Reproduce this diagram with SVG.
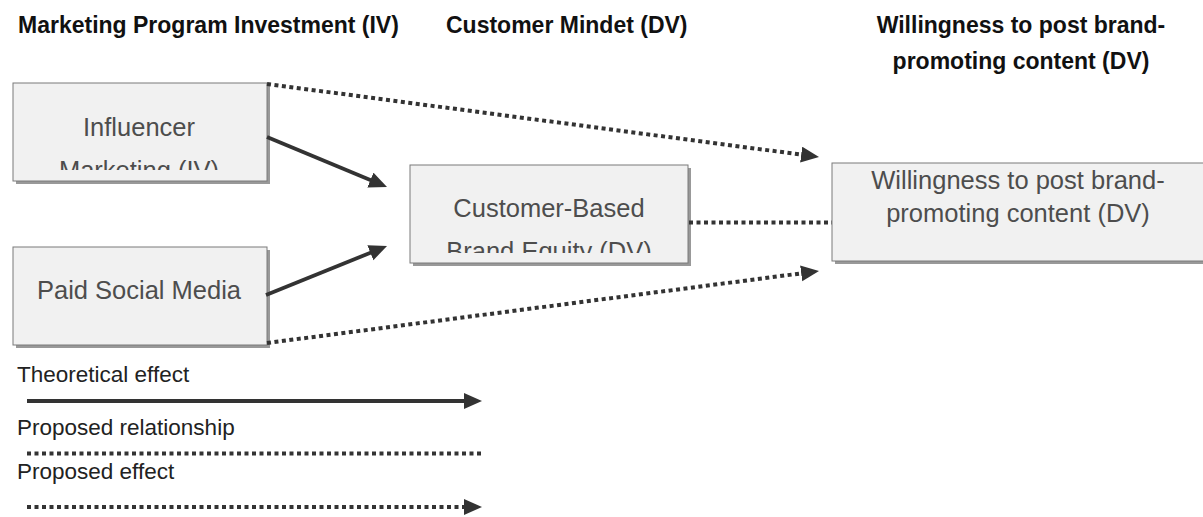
<svg xmlns="http://www.w3.org/2000/svg" width="1203" height="517" viewBox="0 0 1203 517">
<style>
.hdr{font-family:"Liberation Sans",Arial,sans-serif;font-weight:bold;font-size:23px;fill:#111}
.box{fill:#f1f1f1;stroke:#7a7a7a;stroke-width:1}
.shadow{fill:#999}
.lbl{font-family:"Liberation Sans",Arial,sans-serif;font-size:25.5px;fill:#4d4d4d;text-anchor:middle}
.leg{font-family:"Liberation Sans",Arial,sans-serif;font-size:22.5px;fill:#222}
.solid{stroke:#333;stroke-width:3.8;fill:none}
.dot{stroke:#333;stroke-width:4;fill:none;stroke-dasharray:4 3.5}
</style>
<defs>
<marker id="ah" markerUnits="userSpaceOnUse" markerWidth="20" markerHeight="18" refX="9" refY="8" orient="auto" viewBox="0 0 20 18">
<path d="M0,0 L18,8 L0,16 z" fill="#333"/>
</marker>
<clipPath id="clipInf"><rect x="13" y="83" width="254" height="87"/></clipPath>
<clipPath id="clipCbe"><rect x="410" y="165" width="278" height="88"/></clipPath>
</defs>

<g id="headers">
<text class="hdr" x="18" y="33">Marketing Program Investment (IV)</text>
<text class="hdr" x="446" y="33">Customer Mindet (DV)</text>
<text class="hdr" x="1021" y="33" text-anchor="middle">Willingness to post brand-</text>
<text class="hdr" x="1021" y="69" text-anchor="middle">promoting content (DV)</text>
</g>

<g id="node-influencer">
<rect class="shadow" x="16" y="86" width="254" height="98"/>
<rect class="box" x="13" y="83" width="254" height="98"/>
<g clip-path="url(#clipInf)">
<text class="lbl" x="139" y="136">Influencer</text>
<text class="lbl" x="139" y="179">Marketing (IV)</text>
</g>
</g>

<g id="node-paid">
<rect class="shadow" x="16" y="250" width="254" height="98"/>
<rect class="box" x="13" y="247" width="254" height="98"/>
<text class="lbl" x="139" y="299">Paid Social Media</text>
</g>

<g id="node-cbe">
<rect class="shadow" x="413" y="168" width="278" height="98"/>
<rect class="box" x="410" y="165" width="278" height="98"/>
<g clip-path="url(#clipCbe)">
<text class="lbl" x="549" y="217">Customer-Based</text>
<text class="lbl" x="549" y="260">Brand Equity (DV)</text>
</g>
</g>

<g id="node-willingness">
<rect class="shadow" x="835" y="166" width="372" height="98"/>
<rect class="box" x="832" y="163" width="372" height="98"/>
<text class="lbl" x="1018" y="189">Willingness to post brand-</text>
<text class="lbl" x="1018" y="222">promoting content (DV)</text>
</g>

<g id="connectors">
<line class="solid" x1="267" y1="137" x2="378.7" y2="183.5" marker-end="url(#ah)"/>
<line class="solid" x1="266" y1="295" x2="378.7" y2="249.4" marker-end="url(#ah)"/>
<line class="dot" x1="267" y1="84" x2="810.1" y2="155.8" marker-end="url(#ah)"/>
<line class="dot" x1="267" y1="343" x2="810.1" y2="272.2" marker-end="url(#ah)"/>
<line class="dot" x1="689" y1="222.5" x2="832" y2="222.5"/>
</g>

<g id="legend">
<text class="leg" x="17" y="382">Theoretical effect</text>
<line class="solid" x1="27" y1="401" x2="473" y2="401" marker-end="url(#ah)"/>
<text class="leg" x="17" y="435">Proposed relationship</text>
<line class="dot" x1="27" y1="453.5" x2="481" y2="453.5"/>
<text class="leg" x="17" y="479">Proposed effect</text>
<line class="dot" x1="27" y1="507" x2="473" y2="507" marker-end="url(#ah)"/>
</g>
</svg>
